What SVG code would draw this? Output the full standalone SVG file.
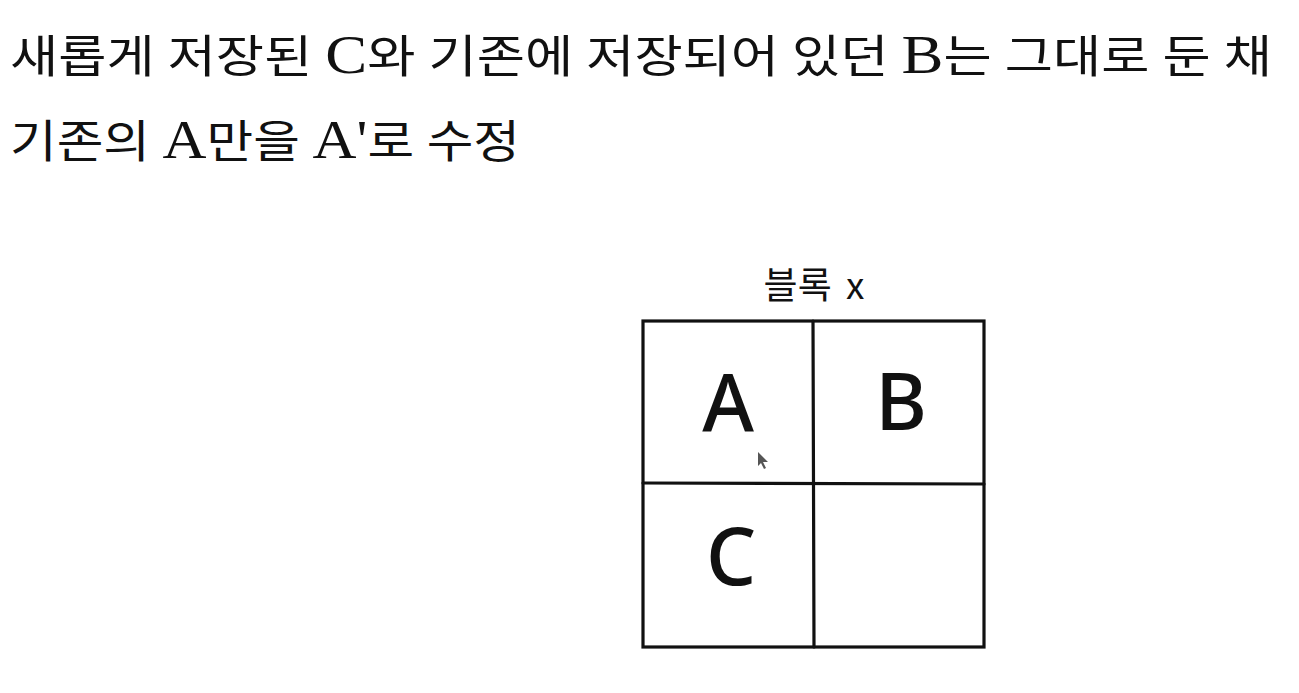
<svg xmlns="http://www.w3.org/2000/svg" width="1299" height="693" viewBox="0 0 1299 693">
<style>
.head{font-family:"Liberation Serif","Noto Sans CJK KR",serif;font-size:45px;fill:#111}
.lat{font-size:54px}
.cell{font-family:"Noto Sans","Noto Sans CJK KR",sans-serif;font-size:79px;font-weight:500;fill:#111;text-anchor:middle}
.lbl{font-family:"Noto Sans CJK KR","Noto Sans",sans-serif;font-size:37px;fill:#111;text-anchor:middle;word-spacing:6px}
.ln{stroke:#111;stroke-width:3.2;fill:none;stroke-linecap:round}
</style>
<rect width="1299" height="693" fill="#fff"/>
<g id="heading">
<text class="head" x="10" y="73" textLength="1262" lengthAdjust="spacingAndGlyphs">새롭게 저장된 <tspan class="lat">C</tspan>와 기존에 저장되어 있던 <tspan class="lat">B</tspan>는 그대로 둔 채</text>
<text class="head" x="10" y="158" textLength="510" lengthAdjust="spacingAndGlyphs">기존의 <tspan class="lat">A</tspan>만을 <tspan class="lat">A'</tspan>로 수정</text>
</g>
<g id="block-x">
<text class="lbl" x="814" y="299">블록 x</text>
<rect class="ln" x="643" y="321" width="341" height="326"/>
<line class="ln" x1="813" y1="321" x2="814" y2="647"/>
<line class="ln" x1="643" y1="483" x2="984" y2="484"/>
</g>
<g id="cell-a"><text class="cell" x="728" y="431">A</text></g>
<g id="cell-b"><text class="cell" x="901" y="430">B</text></g>
<g id="cell-c"><text class="cell" x="731" y="585">C</text></g>
<g id="cell-empty"></g>
<g id="cursor"><polygon points="758,452 758,466 761,463 764,469 766,468 763,462 768,462" fill="#555"/></g>
</svg>
